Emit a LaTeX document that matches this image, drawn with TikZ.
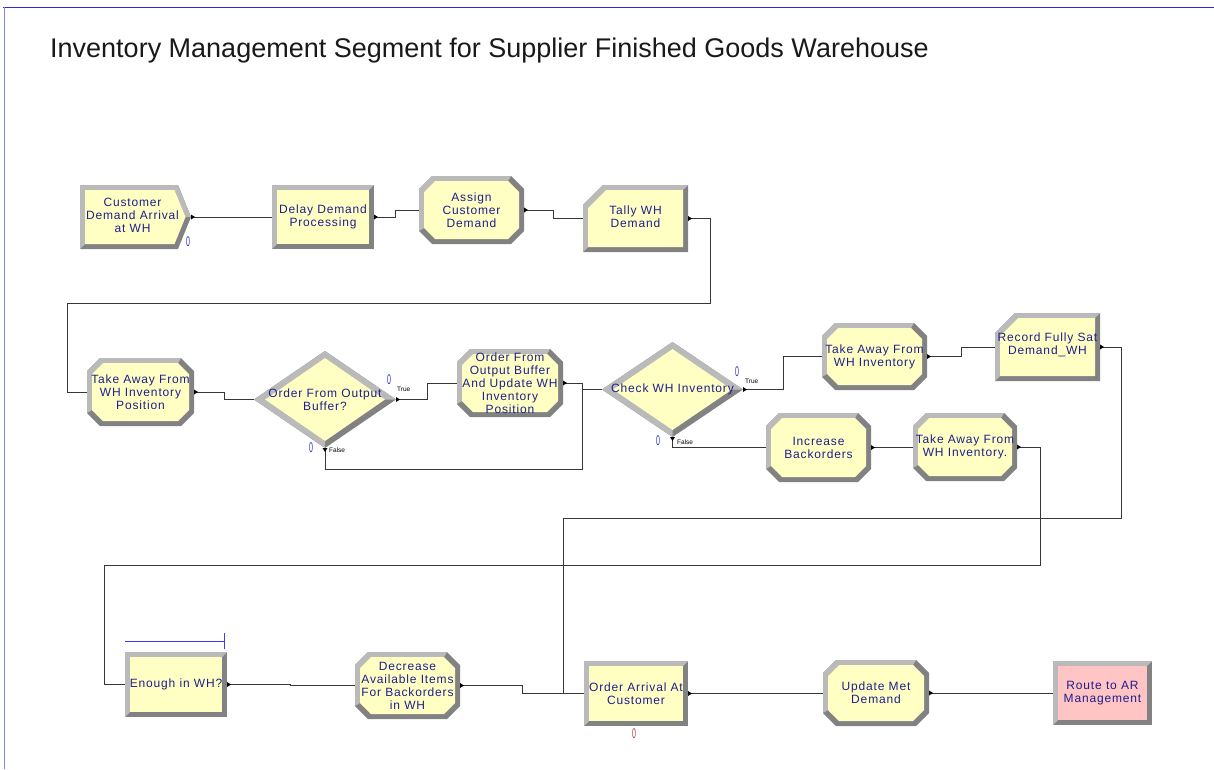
\documentclass[tikz,border=0pt]{standalone}
\usepackage{fontspec}
\usepackage{graphicx}
\setmainfont{Liberation Sans}
\newfontfamily\lblfont[LetterSpace=7]{Liberation Sans}
\usetikzlibrary{calc}
\definecolor{yel}{RGB}{255,255,196}
\definecolor{pinkf}{RGB}{255,196,196}
\definecolor{bevL}{RGB}{186,186,186}
\definecolor{bevD}{RGB}{130,130,130}
\definecolor{navy}{RGB}{30,30,140}
\definecolor{conn}{RGB}{55,55,55}
\definecolor{cntblue}{RGB}{50,50,200}
\definecolor{cntred}{RGB}{190,60,60}
\definecolor{topblue}{RGB}{40,40,230}
\definecolor{leftblue}{RGB}{130,130,255}
\definecolor{brkblue}{RGB}{60,60,255}
\definecolor{titlec}{RGB}{25,25,25}
\tikzset{
  box/.style={rectangle, draw=none, inner sep=0pt, outer sep=0pt},
  lbl/.style={inner sep=0pt, outer sep=0pt, align=center, text=navy, font=\lblfont\fontsize{12}{13}\selectfont},
  wire/.style={draw=conn, line width=0.9pt},
  cnt/.style={inner sep=0pt, text=cntblue, font=\fontsize{14}{14}\selectfont},
  tfl/.style={inner sep=0pt, anchor=west, text=black, font=\fontsize{6.5}{7}\selectfont},
  brk/.style={draw=brkblue, line width=1pt}
}
% plain rectangle module
\newcommand\RectMod[7]{%
  \fill[bevD] (#2,#3) rectangle (#4,#5);
  \fill[bevL] (#2,#5) -- (#2,#3) -- (#4,#3) -- ({#4-5},{#3+5}) -- ({#2+5},{#3+5}) -- ({#2+5},{#5-5}) -- cycle;
  \fill[#6] ({#2+5},{#3+5}) rectangle ({#4-5},{#5-5});
  \node[box, minimum width={#4-#2}, minimum height={#5-#3}] (#1) at ({(#2+#4)/2},{(#3+#5)/2}) {};
  \node[lbl] (#1-t) at (#1.center) {#7};
}
% chamfered (assign) module
\newcommand\OctMod[6]{%
  \fill[bevD] (#2,{#5-13}) -- (#2,{#3+13}) -- ({#2+13},#3) -- ({#4-13},#3) -- (#4,{#3+13}) -- (#4,{#5-13}) -- ({#4-13},#5) -- ({#2+13},#5) -- cycle;
  \fill[bevL] (#2,{#5-13}) -- (#2,{#3+13}) -- ({#2+13},#3) -- ({#4-13},#3) -- ({#4-16},{#3+5}) -- ({#2+16},{#3+5}) -- ({#2+5},{#3+16}) -- ({#2+5},{#5-16}) -- cycle;
  \fill[yel] ({#2+5},{#5-16}) -- ({#2+5},{#3+16}) -- ({#2+16},{#3+5}) -- ({#4-16},{#3+5}) -- ({#4-5},{#3+16}) -- ({#4-5},{#5-16}) -- ({#4-16},{#5-5}) -- ({#2+16},{#5-5}) -- cycle;
  \node[box, minimum width={#4-#2}, minimum height={#5-#3}] (#1) at ({(#2+#4)/2},{(#3+#5)/2}) {};
  \node[lbl] (#1-t) at (#1.center) {#6};
}
% record/tally module (top-left corner cut)
\newcommand\RecMod[6]{%
  \fill[bevD] (#2,#5) -- (#2,{#3+20}) -- ({#2+20},#3) -- (#4,#3) -- (#4,#5) -- cycle;
  \fill[bevL] (#2,#5) -- (#2,{#3+20}) -- ({#2+20},#3) -- (#4,#3) -- ({#4-5},{#3+5}) -- ({#2+23},{#3+5}) -- ({#2+5},{#3+23}) -- ({#2+5},{#5-5}) -- cycle;
  \fill[yel] ({#2+5},{#5-5}) -- ({#2+5},{#3+23}) -- ({#2+23},{#3+5}) -- ({#4-5},{#3+5}) -- ({#4-5},{#5-5}) -- cycle;
  \node[box, minimum width={#4-#2}, minimum height={#5-#3}] (#1) at ({(#2+#4)/2},{(#3+#5)/2}) {};
  \node[lbl] (#1-t) at ([yshift=2pt]#1.center) {#6};
}
% create module (arrow shape)
\newcommand\CreMod[6]{%
  \fill[bevD] (#2,#3) -- ({#4-13},#3) -- (#4,{(#3+#5)/2}) -- ({#4-13},#5) -- (#2,#5) -- cycle;
  \fill[bevL] (#2,#5) -- (#2,#3) -- ({#4-13},#3) -- (#4,{(#3+#5)/2}) -- ({#4-5.5},{(#3+#5)/2}) -- ({#4-16.5},{#3+5}) -- ({#2+5},{#3+5}) -- ({#2+5},{#5-5}) -- cycle;
  \fill[yel] ({#2+5},{#3+5}) -- ({#4-16.5},{#3+5}) -- ({#4-5.5},{(#3+#5)/2}) -- ({#4-16.5},{#5-5}) -- ({#2+5},{#5-5}) -- cycle;
  \node[box, minimum width={#4-#2}, minimum height={#5-#3}] (#1) at ({(#2+#4)/2},{(#3+#5)/2}) {};
  \node[lbl] (#1-t) at ([xshift=-3pt,yshift=2pt]#1.center) {#6};
}
% decide module (diamond): name xl yt xr yb text
\newcommand\DiaMod[6]{%
  \fill[bevD] (#2,{(#3+#5)/2}) -- ({(#2+#4)/2},#3) -- (#4,{(#3+#5)/2}) -- ({(#2+#4)/2},#5) -- cycle;
  \fill[bevL] ({(#2+#4)/2},#5) -- (#2,{(#3+#5)/2}) -- ({(#2+#4)/2},#3) -- (#4,{(#3+#5)/2}) -- ({#4-11},{(#3+#5)/2}) -- ({(#2+#4)/2},{#3+7}) -- ({#2+11},{(#3+#5)/2}) -- ({(#2+#4)/2},{#5-7}) -- cycle;
  \fill[yel] ({#2+11},{(#3+#5)/2}) -- ({(#2+#4)/2},{#3+7}) -- ({#4-11},{(#3+#5)/2}) -- ({(#2+#4)/2},{#5-7}) -- cycle;
  \node[box, minimum width={#4-#2}, minimum height={#5-#3}] (#1) at ({(#2+#4)/2},{(#3+#5)/2}) {};
  \node[lbl] (#1-t) at (#1.center) {#6};
}
\newcommand\ExR[1]{\fill[black] (#1) ++(0,-2.5) -- ++(4,2.5) -- ++(-4,2.5) -- cycle;}
\newcommand\ExD[1]{\fill[black] (#1) ++(-2.5,0) -- ++(2.5,4) -- ++(2.5,-4) -- cycle;}
\newcommand\zz{\scalebox{0.5}[1]{0}}
\begin{document}
\begin{tikzpicture}[x=1pt,y=-1pt]
\useasboundingbox (0,0) rectangle (1214,769);
\fill[white] (0,0) rectangle (1214,769);
\draw[topblue, line width=1pt] (3,7) -- (1214,7);
\draw[leftblue, line width=1pt] (4,7) -- (4,769);
\node[anchor=base west, inner sep=0pt, text=titlec, font=\fontsize{27}{30}\selectfont] (title) at (50,57) {Inventory Management Segment for Supplier Finished Goods Warehouse};

\CreMod{cda}{80}{185}{191}{249}{Customer\\Demand Arrival\\at WH}
\RectMod{ddp}{272}{185}{374}{249}{yel}{Delay Demand\\Processing}
\OctMod{acd}{419}{176}{524}{244}{Assign\\Customer\\Demand}
\RecMod{twd}{583}{185}{688}{252}{Tally WH\\Demand}
\OctMod{tap}{87}{358}{194}{426}{Take Away From\\WH Inventory\\Position}
\DiaMod{ofb}{254}{351}{396}{448}{Order From Output\\Buffer?}
\OctMod{ofu}{457}{349}{563}{417}{Order From\\Output Buffer\\And Update WH\\Inventory\\Position}
\DiaMod{chk}{602}{342}{743}{437}{Check WH Inventory}
\OctMod{taw}{822}{323}{927}{390}{Take Away From\\WH Inventory}
\RecMod{rfs}{995}{313}{1100}{381}{Record Fully Sat\\Demand\_WH}
\OctMod{ibo}{766}{413}{871}{482}{Increase\\Backorders}
\OctMod{tax}{913}{413}{1017}{481}{Take Away From\\WH Inventory.}
\RectMod{eiw}{125}{652}{227}{717}{yel}{Enough in WH?}
\OctMod{dai}{355}{652}{460}{719}{Decrease\\Available Items\\For Backorders\\in WH}
\RectMod{oac}{584}{661}{688}{726}{yel}{Order Arrival At\\Customer}
\OctMod{umd}{823}{660}{929}{726}{Update Met\\Demand}
\RectMod{rar}{1053}{661}{1152}{725}{pinkf}{Route to AR\\Management}

\draw[wire] (cda.east) -- (ddp.west);
\draw[wire] (ddp.east) -- ++(21,0) |- (acd.west);
\draw[wire] (acd.east) -- ++(29,0) |- (twd.west);
\draw[wire] (twd.east) -| ++(22,85) -| ([xshift=-20pt]tap.west) -- (tap.west);
\draw[wire] (tap.east) -- ++(30,0) |- (ofb.west);
\draw[wire] (ofb.east) -- ++(31,0) |- (ofu.west);
\draw[wire] (ofu.east) -| ([xshift=-20pt]chk.west) -- (chk.west);
\draw[wire] (ofb.south) -- ++(0,21) -| ([xshift=-20pt]chk.west);
\draw[wire] (chk.east) -- ++(40,0) |- (taw.west);
\draw[wire] (taw.east) -- ++(34,0) |- (rfs.west);
\draw[wire] (chk.south) |- (ibo.west);
\draw[wire] (ibo.east) -- ++(22,0) |- (tax.west);
\draw[wire] (tax.east) -| ++(23,118) -| ([xshift=-21pt]eiw.west) -- (eiw.west);
\draw[wire] (rfs.east) -| ++(21,171) -| ([xshift=-21pt]oac.west) -- (oac.west);
\draw[wire] (eiw.east) -- ++(63,0) |- (dai.west);
\draw[wire] (dai.east) -- ++(62,0) |- (oac.west);
\draw[wire] (oac.east) -- ++(66,0) |- (umd.west);
\draw[wire] (umd.east) -- ++(61,0) |- (rar.west);

\ExR{cda.east}\ExR{ddp.east}\ExR{acd.east}\ExR{twd.east}\ExR{tap.east}
\ExR{ofb.east}\ExD{ofb.south}\ExR{ofu.east}\ExR{chk.east}\ExD{chk.south}
\ExR{taw.east}\ExR{rfs.east}\ExR{ibo.east}\ExR{tax.east}\ExR{eiw.east}
\ExR{dai.east}\ExR{oac.east}\ExR{umd.east}

% counters and branch labels
\node[cnt] (n1) at (188,242) {\zz};
\node[cnt] (n2) at (389,380) {\zz};
\node[cnt] (n3) at (311,448) {\zz};
\node[cnt] (n4) at (737,372) {\zz};
\node[cnt] (n5) at (658,441) {\zz};
\node[cnt, text=cntred] (n6) at (634,734) {\zz};
\node[tfl] (t1) at (397,389) {True};
\node[tfl] (t2) at (745,381) {True};
\node[tfl] (f1) at (329,450) {False};
\node[tfl] (f2) at (677,442) {False};

% blue bracket above Enough in WH?
\draw[brk] ([yshift=11pt]eiw.north west) -- ++(99,0) coordinate (bk);
\draw[brk] ([yshift=-8pt]bk) -- ([yshift=8pt]bk);
\end{tikzpicture}
\end{document}
